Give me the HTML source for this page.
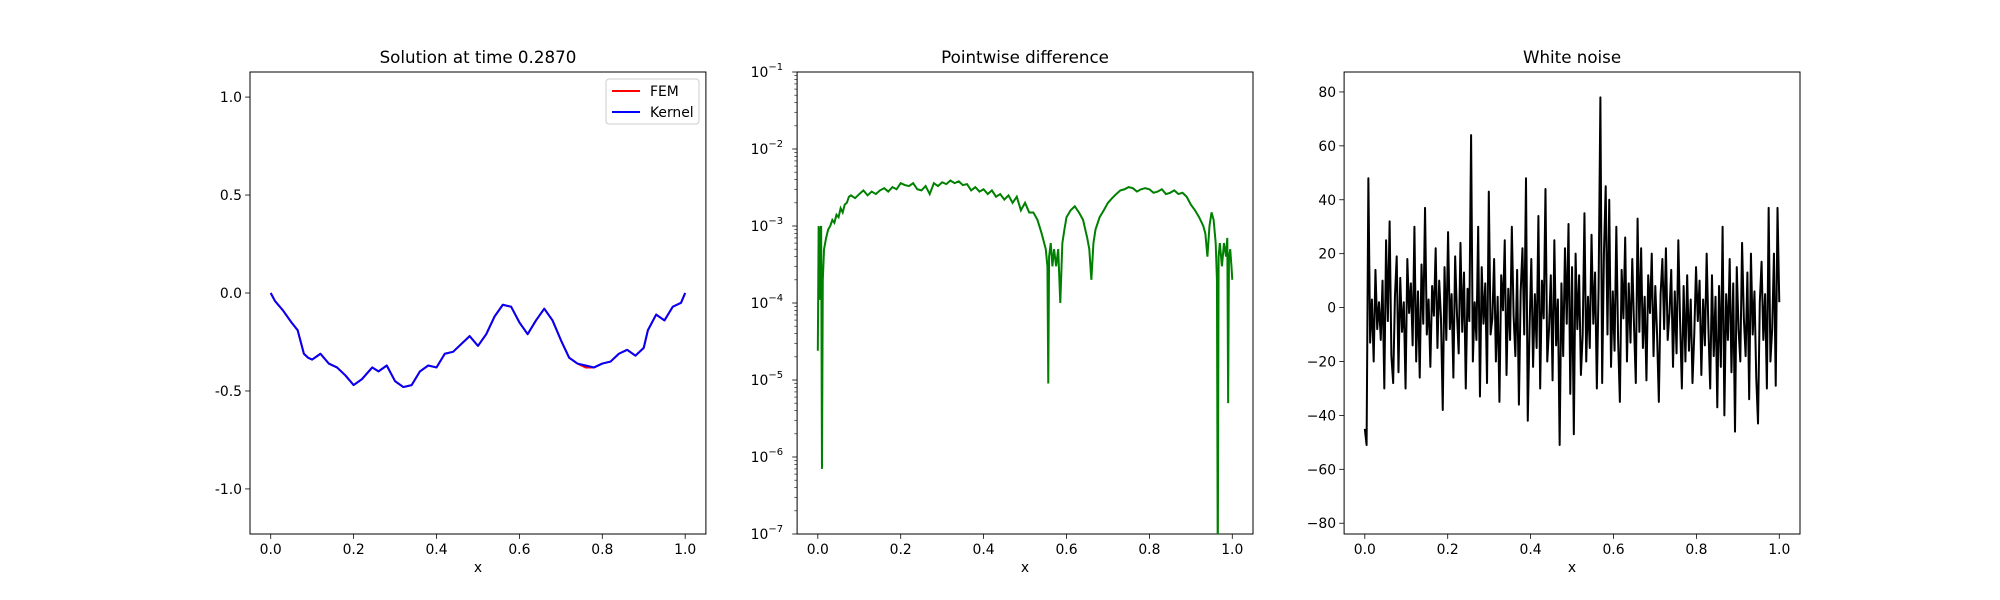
<!DOCTYPE html>
<html><head><meta charset="utf-8"><style>
body{margin:0;background:#fff}
svg{display:block;font-family:"DejaVu Sans","Liberation Sans",sans-serif}
</style></head><body>
<svg id="fig" width="2000" height="600" viewBox="0 0 2000 600"></svg>
<script>
// ---- Panel 1 data: solution ----
const solX = [0,0.01,0.03,0.05,0.065,0.08,0.09,0.1,0.12,0.14,0.16,0.18,0.2,0.22,0.245,0.26,0.28,0.3,0.32,0.34,0.36,0.38,0.4,0.42,0.44,0.46,0.48,0.5,0.52,0.54,0.56,0.58,0.6,0.62,0.64,0.66,0.68,0.7,0.72,0.74,0.76,0.78,0.8,0.82,0.84,0.86,0.88,0.9,0.91,0.93,0.95,0.97,0.99,1.0];
const solFEM = [0,-0.04,-0.09,-0.15,-0.19,-0.31,-0.33,-0.34,-0.31,-0.36,-0.38,-0.42,-0.47,-0.44,-0.38,-0.40,-0.37,-0.45,-0.48,-0.47,-0.40,-0.37,-0.38,-0.31,-0.30,-0.26,-0.22,-0.27,-0.21,-0.12,-0.06,-0.07,-0.15,-0.21,-0.14,-0.08,-0.14,-0.24,-0.33,-0.36,-0.38,-0.38,-0.36,-0.35,-0.31,-0.29,-0.32,-0.28,-0.19,-0.11,-0.14,-0.07,-0.05,0];
const solKernel = [0,-0.04,-0.09,-0.15,-0.19,-0.31,-0.33,-0.34,-0.31,-0.36,-0.38,-0.42,-0.47,-0.44,-0.38,-0.40,-0.37,-0.45,-0.48,-0.47,-0.40,-0.37,-0.38,-0.31,-0.30,-0.26,-0.22,-0.27,-0.21,-0.12,-0.06,-0.07,-0.15,-0.21,-0.14,-0.08,-0.14,-0.24,-0.33,-0.36,-0.37,-0.38,-0.36,-0.35,-0.31,-0.29,-0.32,-0.28,-0.19,-0.11,-0.14,-0.07,-0.05,0];
const solYTicks = [-1.0,-0.5,0.0,0.5,1.0];
const xTicks = [0.0,0.2,0.4,0.6,0.8,1.0];
// ---- Panel 2 data: pointwise difference ----
const difX = [0,0.002,0.004,0.006,0.008,0.01,0.012,0.015,0.02,0.025,0.03,0.035,0.04,0.045,0.05,0.055,0.06,0.065,0.07,0.075,0.08,0.09,0.1,0.11,0.12,0.13,0.14,0.15,0.16,0.17,0.18,0.19,0.2,0.21,0.22,0.23,0.24,0.25,0.26,0.27,0.28,0.29,0.3,0.31,0.32,0.33,0.34,0.35,0.36,0.37,0.38,0.39,0.4,0.41,0.42,0.43,0.44,0.45,0.46,0.47,0.48,0.49,0.5,0.51,0.52,0.53,0.54,0.55,0.554,0.556,0.558,0.562,0.566,0.57,0.575,0.58,0.585,0.59,0.595,0.6,0.61,0.62,0.63,0.64,0.65,0.655,0.66,0.665,0.67,0.68,0.69,0.7,0.71,0.72,0.73,0.74,0.75,0.76,0.77,0.78,0.79,0.8,0.81,0.82,0.83,0.84,0.85,0.86,0.87,0.88,0.89,0.9,0.91,0.92,0.93,0.935,0.94,0.945,0.95,0.955,0.96,0.963,0.965,0.967,0.97,0.975,0.98,0.985,0.988,0.99,0.992,0.995,0.998,1.0];
const difVal = [2.4e-5,1e-3,1.1e-4,9e-4,1e-3,7e-7,2e-4,5e-4,7e-4,9e-4,1e-3,1.2e-3,1.1e-3,1.4e-3,1.3e-3,1.7e-3,1.5e-3,1.9e-3,2e-3,2.4e-3,2.5e-3,2.3e-3,2.6e-3,2.9e-3,2.5e-3,2.8e-3,2.6e-3,2.9e-3,3.1e-3,2.8e-3,3.2e-3,3e-3,3.6e-3,3.4e-3,3.3e-3,3.6e-3,3e-3,2.9e-3,3.3e-3,2.6e-3,3.6e-3,3.3e-3,3.7e-3,3.5e-3,3.9e-3,3.6e-3,3.8e-3,3.4e-3,3.5e-3,2.9e-3,3.2e-3,2.8e-3,3e-3,2.6e-3,2.9e-3,2.4e-3,2.6e-3,2.2e-3,2.5e-3,2e-3,2.4e-3,1.6e-3,2e-3,1.5e-3,1.5e-3,1.2e-3,8e-4,5e-4,3e-4,9e-6,4e-4,6e-4,3e-4,5e-4,3e-4,5e-4,1e-4,6e-4,9e-4,1.3e-3,1.6e-3,1.8e-3,1.5e-3,1.2e-3,7e-4,5e-4,2e-4,6e-4,9e-4,1.3e-3,1.6e-3,2e-3,2.3e-3,2.6e-3,2.9e-3,3e-3,3.2e-3,3.1e-3,2.8e-3,3e-3,3.1e-3,3e-3,2.7e-3,2.8e-3,3e-3,2.6e-3,2.7e-3,2.9e-3,2.6e-3,2.7e-3,2.4e-3,1.9e-3,1.6e-3,1.3e-3,1e-3,8e-4,4e-4,1e-3,1.5e-3,1.2e-3,6e-4,2e-4,1e-8,4e-4,6e-4,3e-4,6e-4,4e-4,7e-4,5e-6,4e-4,5e-4,3e-4,2e-4];
const difYTicks = [-7,-6,-5,-4,-3,-2,-1];
// ---- Panel 3 data: white noise ----
const noiseVal = [-45,-51,48,-13,3,-20,14,-8,2,-12,10,-30,25,-5,32,-18,-28,4,19,-24,11,-9,2,-30,18,-2,9,-14,30,-20,6,-26,16,-6,37,-10,3,-22,8,-3,22,-15,10,-4,-38,15,-12,28,-8,5,-26,19,-2,-17,24,-9,13,-30,7,-5,64,-20,2,-12,30,-33,15,-6,9,-28,43,-10,-4,18,-20,4,-35,12,-1,25,-25,7,-12,30,-3,-18,14,-36,6,22,-10,48,-42,-8,18,-22,5,-15,34,-30,10,-4,44,-20,-8,12,-27,25,-14,3,-51,9,-18,22,-6,31,-32,15,-47,20,-8,12,-25,-10,35,-20,4,-15,27,-6,13,-30,8,78,-28,20,45,-10,40,-22,6,-16,30,-12,-35,14,-4,26,-20,9,-13,18,-7,-28,33,-9,22,-15,4,-27,12,-2,20,-18,8,-10,-35,5,18,-8,22,-12,-2,14,-22,6,-17,25,-5,-30,8,-20,12,-16,3,-28,-10,15,-5,10,-25,3,-14,20,-8,-30,12,-18,4,-37,8,-22,30,-40,5,-12,18,-24,9,-46,15,-8,-20,24,-4,-18,13,-34,20,-10,6,-26,-43,2,17,-12,5,-30,37,-20,-8,20,-29,37,2];
const noiseYTicks = [-80,-60,-40,-20,0,20,40,60,80];

const svg = document.getElementById('fig');
const NS = 'http://www.w3.org/2000/svg';
function mk(tag, attrs, parent){const e=document.createElementNS(NS,tag);for(const k in attrs)e.setAttribute(k,attrs[k]);(parent||svg).appendChild(e);return e;}
const T=72,B=534;
const panels=[{L:250,R:705.9},{L:797.1,R:1253},{L:1344.1,R:1800}];
function xs(p,v){return p.L+(v+0.05)/1.1*(p.R-p.L);}
function tickLabel(p,txt,x){const t=mk('text',{x:x,y:B+20,'text-anchor':'middle','font-size':'13.9px',fill:'#000'});t.textContent=txt;return t;}
function frame(p,title,idx){
  const g=mk('g',{});
  
  
  const r=mk('rect',{x:p.L,y:T,width:p.R-p.L,height:B-T,fill:'none',stroke:'#000','stroke-width':1});
  
  
  const tt=mk('text',{x:(p.L+p.R)/2,y:T-9,'text-anchor':'middle','font-size':'16.7px',fill:'#000'});
  tt.textContent=title;
  
  
  xTicks.forEach(v=>{const x=xs(p,v);mk('line',{x1:x,x2:x,y1:B,y2:B+4.9,stroke:'#000','stroke-width':0.8});
    const t=tickLabel(p,v.toFixed(1),x);
    
    });
  const xl=mk('text',{x:(p.L+p.R)/2,y:B+38,'text-anchor':'middle','font-size':'13.9px',fill:'#000'});
  xl.textContent='x';
  
  
}
function ytick(p,y,txt,sup){
  mk('line',{x1:p.L-4.9,x2:p.L,y1:y,y2:y,stroke:'#000','stroke-width':0.8});
  const t=mk('text',{x:p.L-8,y:y+5,'text-anchor':'end','font-size':'13.9px',fill:'#000'});
  
  
  if(sup!==undefined){t.textContent='10';const s=mk('tspan',{dy:-7,'font-size':'10px'},t);s.textContent=sup;t.setAttribute('x',p.L-14);}
  else t.textContent=txt;
}
function line(pts,color,w,name){
  const pl=mk('polyline',{points:pts.map(q=>q[0].toFixed(2)+','+q[1].toFixed(2)).join(' '),fill:'none',stroke:color,'stroke-width':w,'stroke-linejoin':'round'});
  
  
}
// Panel 1
const p1=panels[0];
const y1=v=>T+(1.128-v)/(1.128+1.23)*(B-T);
frame(p1,'Solution at time 0.2870',1);
solYTicks.forEach(v=>ytick(p1,y1(v),v.toFixed(1)));
line(solX.map((x,i)=>[xs(p1,x),y1(solFEM[i])]),'#ff0000',2,'fem-line');
line(solX.map((x,i)=>[xs(p1,x),y1(solKernel[i])]),'#0000ff',2,'kernel-line');
const lg=mk('g',{});


mk('rect',{x:606,y:79,width:93,height:45,rx:3,fill:'#fff',stroke:'#ccc'},lg);
mk('line',{x1:612,x2:640,y1:91,y2:91,stroke:'#ff0000','stroke-width':2},lg);
mk('line',{x1:612,x2:640,y1:112,y2:112,stroke:'#0000ff','stroke-width':2},lg);
const l1=mk('text',{x:650,y:96,'font-size':'13.9px'},lg);l1.textContent='FEM';


const l2=mk('text',{x:650,y:117,'font-size':'13.9px'},lg);l2.textContent='Kernel';


// Panel 2
const p2=panels[1];
const y2=v=>{const l=Math.max(Math.log10(v),-7.5);return T+(-1-l)/6*(B-T);};
frame(p2,'Pointwise difference',2);
difYTicks.forEach(e=>{ytick(p2,y2(Math.pow(10,e)),'',String(e).replace('-','\u2212'));
  for(let m=2;m<10&&e<-1;m++){const yy=y2(m*Math.pow(10,e));mk('line',{x1:p2.L-2.8,x2:p2.L,y1:yy,y2:yy,stroke:'#000','stroke-width':0.6});}});
const cp=mk('clipPath',{id:'c2'});mk('rect',{x:p2.L,y:T,width:p2.R-p2.L,height:B-T},cp);
const g2=mk('g',{'clip-path':'url(#c2)'});
const pl2=mk('polyline',{points:difX.map((x,i)=>xs(p2,x).toFixed(2)+','+y2(difVal[i]).toFixed(2)).join(' '),fill:'none',stroke:'#008000','stroke-width':2},g2);


// Panel 3
const p3=panels[2];
const y3=v=>T+(87.4-v)/(87.4+84)*(B-T);
frame(p3,'White noise',3);
noiseYTicks.forEach(v=>ytick(p3,y3(v),String(v).replace('-','\u2212')));
const n=noiseVal.length;
line(noiseVal.map((v,i)=>[xs(p3,i/(n-1)),y3(v)]),'#000',2,'noise-line');
</script>
</body></html>
